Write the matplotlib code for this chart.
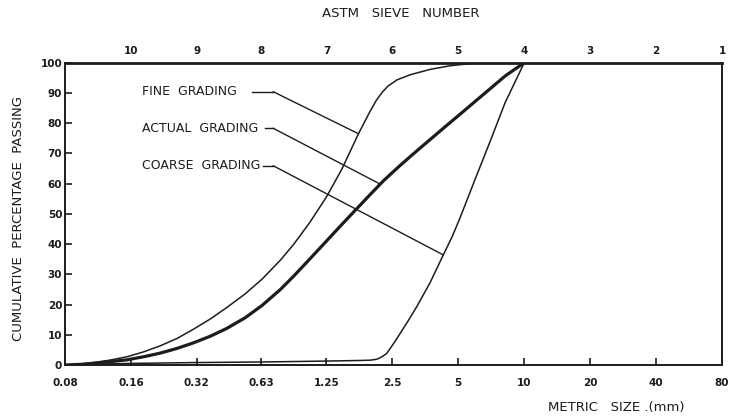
import numpy as np
import matplotlib
matplotlib.use("Agg")
import matplotlib.pyplot as plt

# -----------------------------
# Data
# -----------------------------
sizes = [0.08, 0.16, 0.32, 0.63, 1.25, 2.5, 5, 10, 20, 40, 80]
size_labels = ["0.08", "0.16", "0.32", "0.63", "1.25", "2.5", "5", "10", "20", "40", "80"]
astm_labels = ["10", "9", "8", "7", "6", "5", "4", "3", "2", "1"]
y_ticks = [0, 10, 20, 30, 40, 50, 60, 70, 80, 90, 100]

# fine grading limit (mm, % passing)
fine_mm = [0.08, 0.094, 0.11, 0.128, 0.153, 0.182, 0.217, 0.26, 0.308, 0.368,
           0.438, 0.531, 0.635, 0.768, 0.883, 1.05, 1.25, 1.47, 1.75, 1.98,
           2.11, 2.25, 2.39, 2.62, 3.01, 3.72, 4.59, 5.66, 6.99, 10.0]
fine_pct = [0.0, 0.3, 0.9, 1.6, 2.7, 4.3, 6.3, 8.8, 11.8, 15.2,
            19.0, 23.5, 28.4, 34.6, 39.8, 47.2, 55.6, 64.8, 76.5, 84.0,
            87.5, 90.3, 92.3, 94.3, 96.0, 97.8, 99.0, 99.7, 100.0, 100.0]

# actual grading
actual_mm = [0.08, 0.094, 0.11, 0.128, 0.153, 0.182, 0.217, 0.26, 0.308, 0.368,
             0.438, 0.531, 0.635, 0.768, 0.883, 1.05, 1.25, 1.47, 1.75, 1.98,
             2.28, 2.71, 3.18, 3.72, 4.35, 5.1, 5.97, 6.99, 8.18, 10.0]
actual_pct = [0.0, 0.2, 0.6, 1.1, 1.7, 2.7, 3.9, 5.5, 7.3, 9.5,
              12.1, 15.6, 19.7, 24.9, 29.3, 35.1, 41.0, 46.5, 52.3, 56.4,
              61.0, 66.0, 70.4, 74.6, 78.8, 83.0, 87.2, 91.4, 95.6, 100.0]

# coarse grading limit
coarse_mm = [0.08, 0.11, 0.153, 0.308, 0.635, 1.25, 1.78, 1.98, 2.12, 2.2,
             2.27, 2.36, 2.44, 2.57, 2.71, 2.95, 3.23, 3.72, 4.21, 4.69,
             5.1, 5.97, 6.99, 8.18, 10.0]
coarse_pct = [0.0, 0.3, 0.5, 0.8, 1.0, 1.3, 1.5, 1.6, 1.9, 2.4,
              3.0, 3.9, 5.4, 7.8, 10.4, 14.6, 19.3, 27.3, 35.5, 42.5,
              48.8, 61.5, 74.0, 86.8, 100.0]

# where the leader lines touch each curve (mm)
fine_hit = 1.75
actual_hit = 2.2
coarse_hit = 4.27

INK = "#1c1c1c"


def on_curve(mm, xs, ys):
    return float(np.interp(np.log(mm), np.log(xs), ys))


fig = plt.figure(figsize=(7.29, 4.17), dpi=100)
ax = fig.add_axes([0.0892, 0.1247, 0.9012, 0.7249])

ax.plot(fine_mm, fine_pct, color=INK, lw=1.1, solid_joinstyle="round")
ax.plot(coarse_mm, coarse_pct, color=INK, lw=1.1, solid_joinstyle="round")
ax.plot(actual_mm, actual_pct, color=INK, lw=2.3, solid_joinstyle="round")

ax.set_xscale("log", base=2)
ax.set_xlim(0.08, 80)
ax.set_ylim(0, 100)

ax.set_xticks(sizes)
ax.set_xticklabels(size_labels)
ax.xaxis.set_minor_locator(matplotlib.ticker.NullLocator())
ax.set_yticks(y_ticks)
ax.tick_params(axis="both", direction="in", length=5, width=1.2, color=INK,
               labelsize=7.5, labelcolor=INK)
for lab in ax.get_xticklabels() + ax.get_yticklabels():
    lab.set_fontweight("bold")
ax.tick_params(axis="x", pad=9)
ax.tick_params(axis="y", pad=2)

for sp in ax.spines.values():
    sp.set_color(INK)
    sp.set_linewidth(1.4)
ax.spines["top"].set_linewidth(2.0)

# top axis: ASTM sieve numbers
top = ax.secondary_xaxis("top")
top.set_xticks(sizes[1:])
top.set_xticklabels(astm_labels)
top.xaxis.set_minor_locator(matplotlib.ticker.NullLocator())
top.tick_params(length=0, labelsize=7.5, labelcolor=INK, pad=5)
for lab in top.get_xticklabels():
    lab.set_fontweight("bold")
top.spines["top"].set_visible(False)

fig.text(0.55, 0.967, "ASTM   SIEVE   NUMBER", ha="center", va="center",
         fontsize=9.5, color=INK)
fig.text(0.845, 0.022, "METRIC   SIZE .(mm)", ha="center", va="center",
         fontsize=9.5, color=INK)
fig.text(0.0247, 0.477, "CUMULATIVE  PERCENTAGE  PASSING", rotation=90,
         ha="center", va="center", fontsize=9.5, color=INK)

# labels with leader lines
labels = [
    ("FINE  GRADING", 0.904, 0.284, fine_hit, fine_mm, fine_pct),
    ("ACTUAL  GRADING", 0.783, 0.304, actual_hit, actual_mm, actual_pct),
    ("COARSE  GRADING", 0.659, 0.302, coarse_hit, coarse_mm, coarse_pct),
]
for text, ty, dash_x, hit, xs, ys in labels:
    ax.text(0.117, ty, text, transform=ax.transAxes, ha="left", va="center",
            fontsize=9, color=INK)
    ax.plot([dash_x, 0.317], [ty, ty], transform=ax.transAxes, color=INK, lw=1.0)
    # elbow point in data coordinates
    elbow = ax.transData.inverted().transform(ax.transAxes.transform((0.317, ty)))
    ax.plot([elbow[0], hit], [elbow[1], on_curve(hit, xs, ys)], color=INK, lw=1.0)

fig.savefig("out.png", dpi=100, facecolor="white")
